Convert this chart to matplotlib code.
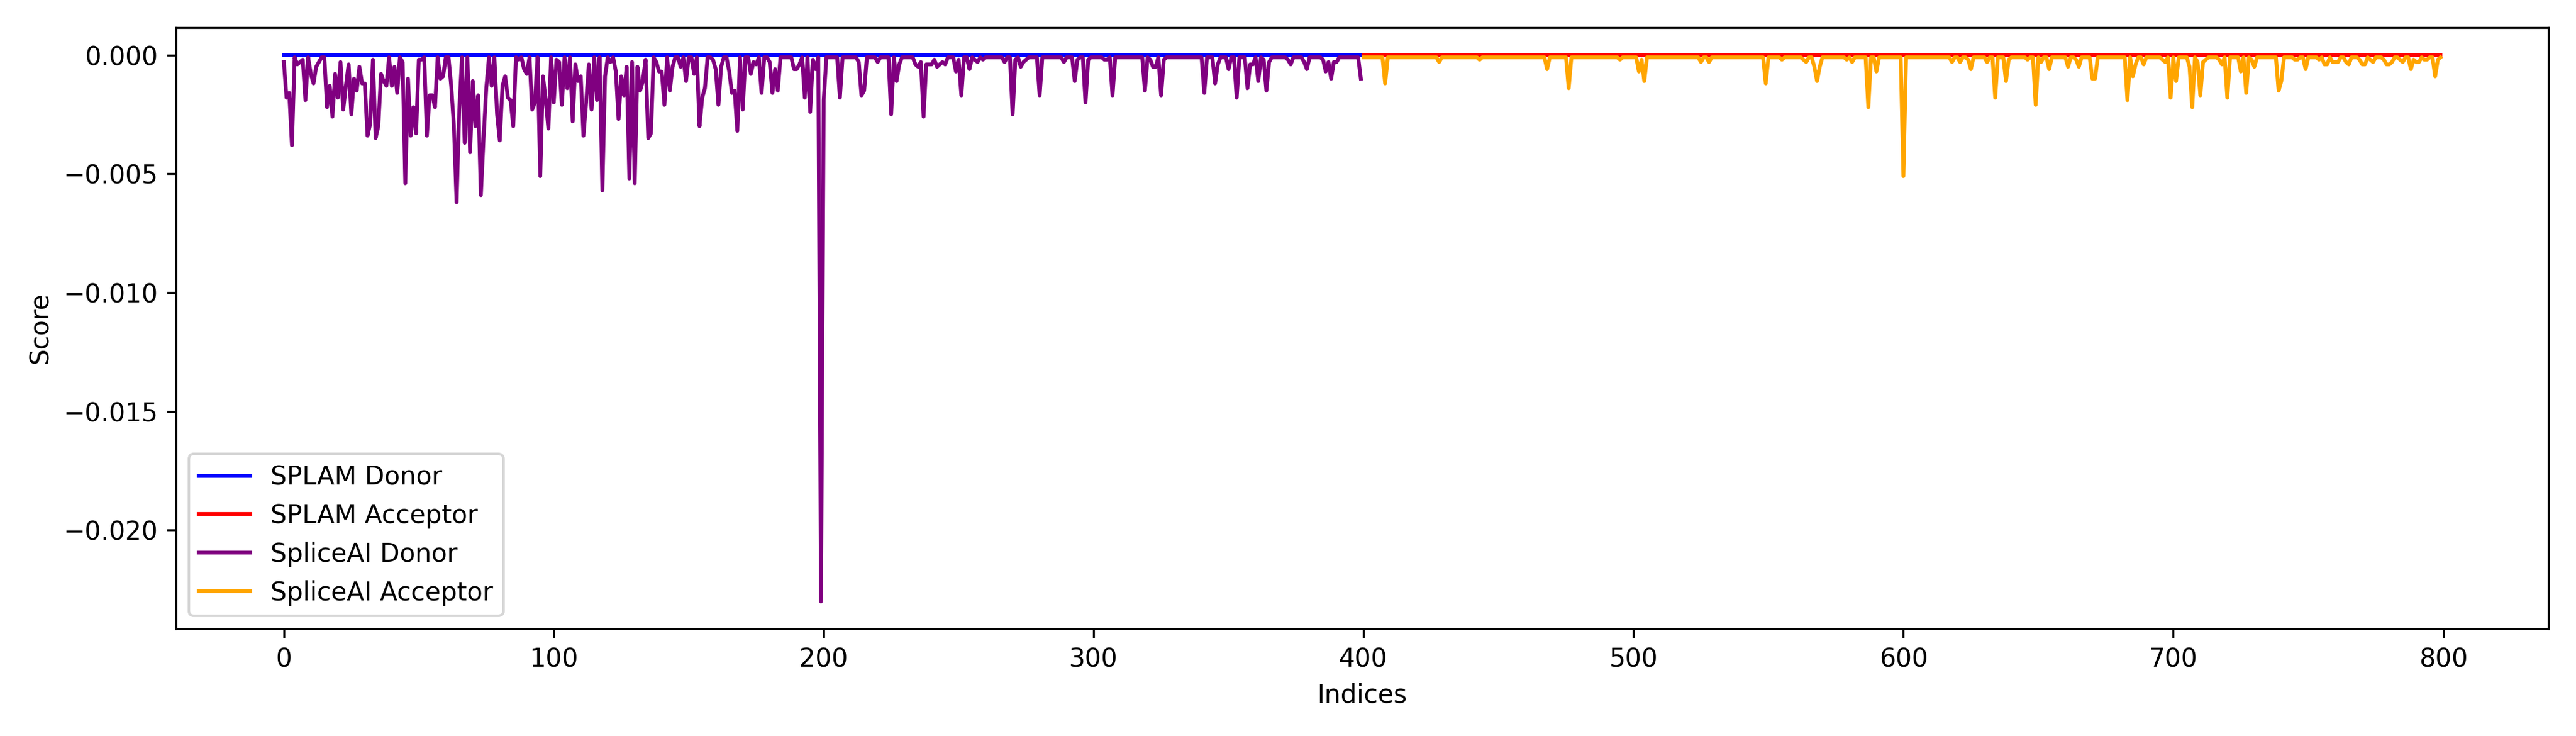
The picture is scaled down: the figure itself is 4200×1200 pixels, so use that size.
import numpy as np
import matplotlib
matplotlib.use('Agg')
import matplotlib.pyplot as plt

# SpliceAI donor scores, indices 0-399
spliceai_donor = [
    -0.0003, -0.0018, -0.0016, -0.0038, -0.0001, -0.0004, -0.0003, -0.0002, -0.0019, -0.0001,
    -0.0008, -0.0012, -0.0005, -0.0003, -0.0001, -0.0001, -0.0022, -0.0013, -0.0026, -0.0008,
    -0.0018, -0.0003, -0.0023, -0.0013, -0.0004, -0.0025, -0.0010, -0.0015, -0.0005, -0.0012,
    -0.0012, -0.0034, -0.0029, -0.0002, -0.0035, -0.0030, -0.0008, -0.0011, -0.0013, -0.0001,
    -0.0013, -0.0005, -0.0016, -0.0001, -0.0003, -0.0054, -0.0010, -0.0034, -0.0022, -0.0033,
    -0.0002, -0.0002, -0.0001, -0.0034, -0.0017, -0.0017, -0.0022, -0.0001, -0.0010, -0.0009,
    -0.0001, -0.0001, -0.0013, -0.0030, -0.0062, -0.0023, -0.0001, -0.0037, -0.0001, -0.0041,
    -0.0011, -0.0030, -0.0017, -0.0059, -0.0035, -0.0014, -0.0001, -0.0013, -0.0001, -0.0025,
    -0.0036, -0.0013, -0.0009, -0.0018, -0.0019, -0.0030, -0.0001, -0.0002, -0.0001, -0.0006,
    -0.0008, -0.0001, -0.0023, -0.0020, -0.0001, -0.0051, -0.0009, -0.0019, -0.0031, -0.0001,
    -0.0020, -0.0002, -0.0003, -0.0021, -0.0001, -0.0014, -0.0001, -0.0028, -0.0004, -0.0011,
    -0.0009, -0.0034, -0.0020, -0.0004, -0.0023, -0.0001, -0.0019, -0.0001, -0.0057, -0.0009,
    -0.0001, -0.0003, -0.0001, -0.0007, -0.0027, -0.0009, -0.0017, -0.0005, -0.0052, -0.0003,
    -0.0054, -0.0005, -0.0015, -0.0011, -0.0002, -0.0035, -0.0033, -0.0001, -0.0003, -0.0007,
    -0.0007, -0.0021, -0.0001, -0.0015, -0.0005, -0.0001, -0.0001, -0.0005, -0.0001, -0.0011,
    -0.0001, -0.0001, -0.0008, -0.0001, -0.0030, -0.0018, -0.0014, -0.0001, -0.0001, -0.0002,
    -0.0006, -0.0021, -0.0005, -0.0001, -0.0001, -0.0007, -0.0016, -0.0015, -0.0032, -0.0001,
    -0.0023, -0.0001, -0.0001, -0.0008, -0.0003, -0.0004, -0.0001, -0.0016, -0.0001, -0.0001,
    -0.0003, -0.0016, -0.0006, -0.0015, -0.0001, -0.0001, -0.0001, -0.0001, -0.0001, -0.0006,
    -0.0006, -0.0004, -0.0001, -0.0018, -0.0001, -0.0024, -0.0002, -0.0006, -0.0001, -0.0230,
    -0.0019, -0.0001, -0.0001, -0.0001, -0.0001, -0.0001, -0.0018, -0.0001, -0.0001, -0.0001,
    -0.0001, -0.0001, -0.0001, -0.0003, -0.0017, -0.0015, -0.0001, -0.0001, -0.0001, -0.0001,
    -0.0003, -0.0001, -0.0001, -0.0001, -0.0001, -0.0025, -0.0001, -0.0011, -0.0004, -0.0001,
    -0.0001, -0.0001, -0.0001, -0.0001, -0.0004, -0.0005, -0.0003, -0.0026, -0.0004, -0.0004,
    -0.0004, -0.0002, -0.0005, -0.0004, -0.0003, -0.0004, -0.0001, -0.0001, -0.0001, -0.0007,
    -0.0002, -0.0017, -0.0001, -0.0001, -0.0006, -0.0001, -0.0002, -0.0003, -0.0001, -0.0002,
    -0.0001, -0.0001, -0.0001, -0.0001, -0.0001, -0.0001, -0.0001, -0.0003, -0.0001, -0.0001,
    -0.0025, -0.0002, -0.0001, -0.0005, -0.0003, -0.0002, -0.0001, -0.0001, -0.0001, -0.0001,
    -0.0017, -0.0001, -0.0001, -0.0001, -0.0001, -0.0001, -0.0001, -0.0001, -0.0001, -0.0003,
    -0.0001, -0.0001, -0.0001, -0.0011, -0.0002, -0.0001, -0.0001, -0.0020, -0.0002, -0.0001,
    -0.0001, -0.0001, -0.0001, -0.0001, -0.0002, -0.0002, -0.0001, -0.0017, -0.0001, -0.0001,
    -0.0001, -0.0001, -0.0001, -0.0001, -0.0001, -0.0001, -0.0001, -0.0001, -0.0001, -0.0015,
    -0.0001, -0.0002, -0.0005, -0.0005, -0.0001, -0.0017, -0.0002, -0.0001, -0.0001, -0.0001,
    -0.0001, -0.0001, -0.0001, -0.0001, -0.0001, -0.0001, -0.0001, -0.0001, -0.0001, -0.0001,
    -0.0001, -0.0016, -0.0001, -0.0001, -0.0001, -0.0012, -0.0004, -0.0001, -0.0001, -0.0001,
    -0.0006, -0.0001, -0.0001, -0.0018, -0.0001, -0.0001, -0.0001, -0.0014, -0.0004, -0.0004,
    -0.0001, -0.0011, -0.0001, -0.0002, -0.0015, -0.0003, -0.0001, -0.0001, -0.0001, -0.0001,
    -0.0001, -0.0001, -0.0002, -0.0004, -0.0001, -0.0001, -0.0001, -0.0001, -0.0003, -0.0006,
    -0.0001, -0.0001, -0.0001, -0.0001, -0.0001, -0.0002, -0.0007, -0.0003, -0.0010, -0.0003,
    -0.0003, -0.0001, -0.0001, -0.0001, -0.0001, -0.0001, -0.0001, -0.0001, -0.0001, -0.0010,
]

# SpliceAI acceptor scores, indices 400-799
spliceai_acceptor = [
    -0.0001, -0.0001, -0.0001, -0.0001, -0.0001, -0.0001, -0.0001, -0.0001, -0.0012, -0.0001,
    -0.0001, -0.0001, -0.0001, -0.0001, -0.0001, -0.0001, -0.0001, -0.0001, -0.0001, -0.0001,
    -0.0001, -0.0001, -0.0001, -0.0001, -0.0001, -0.0001, -0.0001, -0.0001, -0.0003, -0.0001,
    -0.0001, -0.0001, -0.0001, -0.0001, -0.0001, -0.0001, -0.0001, -0.0001, -0.0001, -0.0001,
    -0.0001, -0.0001, -0.0001, -0.0002, -0.0001, -0.0001, -0.0001, -0.0001, -0.0001, -0.0001,
    -0.0001, -0.0001, -0.0001, -0.0001, -0.0001, -0.0001, -0.0001, -0.0001, -0.0001, -0.0001,
    -0.0001, -0.0001, -0.0001, -0.0001, -0.0001, -0.0001, -0.0001, -0.0001, -0.0006, -0.0001,
    -0.0001, -0.0001, -0.0001, -0.0001, -0.0001, -0.0001, -0.0014, -0.0001, -0.0001, -0.0001,
    -0.0001, -0.0001, -0.0001, -0.0001, -0.0001, -0.0001, -0.0001, -0.0001, -0.0001, -0.0001,
    -0.0001, -0.0001, -0.0001, -0.0001, -0.0001, -0.0002, -0.0001, -0.0001, -0.0001, -0.0001,
    -0.0001, -0.0001, -0.0007, -0.0002, -0.0011, -0.0001, -0.0001, -0.0001, -0.0001, -0.0001,
    -0.0001, -0.0001, -0.0001, -0.0001, -0.0001, -0.0001, -0.0001, -0.0001, -0.0001, -0.0001,
    -0.0001, -0.0001, -0.0001, -0.0001, -0.0001, -0.0003, -0.0001, -0.0001, -0.0003, -0.0001,
    -0.0001, -0.0001, -0.0001, -0.0001, -0.0001, -0.0001, -0.0001, -0.0001, -0.0001, -0.0001,
    -0.0001, -0.0001, -0.0001, -0.0001, -0.0001, -0.0001, -0.0001, -0.0001, -0.0001, -0.0012,
    -0.0001, -0.0001, -0.0001, -0.0001, -0.0001, -0.0002, -0.0001, -0.0001, -0.0001, -0.0001,
    -0.0001, -0.0001, -0.0001, -0.0002, -0.0003, -0.0001, -0.0001, -0.0005, -0.0011, -0.0005,
    -0.0001, -0.0001, -0.0001, -0.0001, -0.0001, -0.0001, -0.0001, -0.0001, -0.0001, -0.0002,
    -0.0001, -0.0003, -0.0001, -0.0001, -0.0001, -0.0001, -0.0001, -0.0022, -0.0001, -0.0001,
    -0.0007, -0.0001, -0.0001, -0.0001, -0.0001, -0.0001, -0.0001, -0.0001, -0.0001, -0.0001,
    -0.0051, -0.0001, -0.0001, -0.0001, -0.0001, -0.0001, -0.0001, -0.0001, -0.0001, -0.0001,
    -0.0001, -0.0001, -0.0001, -0.0001, -0.0001, -0.0001, -0.0001, -0.0001, -0.0003, -0.0001,
    -0.0001, -0.0003, -0.0001, -0.0001, -0.0002, -0.0006, -0.0001, -0.0001, -0.0001, -0.0001,
    -0.0001, -0.0003, -0.0001, -0.0001, -0.0018, -0.0001, -0.0001, -0.0001, -0.0011, -0.0002,
    -0.0001, -0.0001, -0.0001, -0.0001, -0.0001, -0.0001, -0.0002, -0.0001, -0.0001, -0.0021,
    -0.0001, -0.0003, -0.0001, -0.0001, -0.0006, -0.0001, -0.0001, -0.0001, -0.0001, -0.0001,
    -0.0001, -0.0005, -0.0001, -0.0001, -0.0002, -0.0005, -0.0001, -0.0001, -0.0001, -0.0001,
    -0.0010, -0.0010, -0.0001, -0.0001, -0.0001, -0.0001, -0.0001, -0.0001, -0.0001, -0.0001,
    -0.0001, -0.0001, -0.0001, -0.0019, -0.0001, -0.0009, -0.0004, -0.0001, -0.0001, -0.0004,
    -0.0001, -0.0001, -0.0001, -0.0001, -0.0001, -0.0001, -0.0002, -0.0003, -0.0001, -0.0018,
    -0.0001, -0.0011, -0.0001, -0.0001, -0.0001, -0.0001, -0.0005, -0.0022, -0.0001, -0.0003,
    -0.0017, -0.0003, -0.0002, -0.0001, -0.0001, -0.0001, -0.0001, -0.0002, -0.0004, -0.0001,
    -0.0018, -0.0001, -0.0001, -0.0001, -0.0001, -0.0007, -0.0001, -0.0016, -0.0001, -0.0002,
    -0.0005, -0.0001, -0.0001, -0.0001, -0.0001, -0.0001, -0.0001, -0.0001, -0.0001, -0.0015,
    -0.0011, -0.0001, -0.0001, -0.0001, -0.0001, -0.0002, -0.0002, -0.0001, -0.0001, -0.0006,
    -0.0001, -0.0001, -0.0001, -0.0001, -0.0002, -0.0001, -0.0004, -0.0004, -0.0001, -0.0003,
    -0.0003, -0.0003, -0.0001, -0.0001, -0.0003, -0.0004, -0.0001, -0.0001, -0.0001, -0.0002,
    -0.0004, -0.0004, -0.0001, -0.0002, -0.0003, -0.0001, -0.0001, -0.0001, -0.0002, -0.0004,
    -0.0004, -0.0003, -0.0001, -0.0001, -0.0002, -0.0003, -0.0001, -0.0001, -0.0006, -0.0002,
    -0.0003, -0.0003, -0.0001, -0.0002, -0.0002, -0.0001, -0.0001, -0.0009, -0.0002, -0.0001,
]

# SPLAM scores stay at zero over both ranges
splam_donor = [0.0] * 400
splam_acceptor = [0.0] * 400

donor_idx = np.arange(0, 400)
acceptor_idx = np.arange(400, 800)

fig, ax = plt.subplots(figsize=(14, 4), dpi=300)
ax.plot(donor_idx, splam_donor, color='blue', label='SPLAM Donor')
ax.plot(acceptor_idx, splam_acceptor, color='red', label='SPLAM Acceptor')
ax.plot(donor_idx, spliceai_donor, color='purple', label='SpliceAI Donor')
ax.plot(acceptor_idx, spliceai_acceptor, color='orange', label='SpliceAI Acceptor')

ax.set_xlabel('Indices')
ax.set_ylabel('Score')
ax.legend(loc='lower left')

plt.tight_layout()
plt.savefig('out.png', dpi=300)
